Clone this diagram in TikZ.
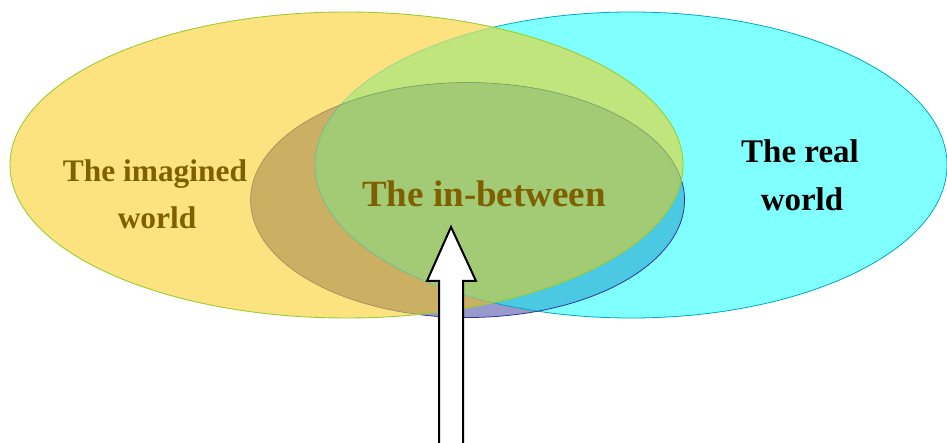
\documentclass[tikz,border=0pt]{standalone}
\usepackage{fontspec}
\setmainfont{Liberation Serif}
\definecolor{cY}{HTML}{FDE37F}
\definecolor{cC}{HTML}{80FFFF}
\definecolor{cM}{HTML}{9999CC}
\definecolor{cYC}{HTML}{C1E57D}
\definecolor{cYM}{HTML}{CBB063}
\definecolor{cCM}{HTML}{4BC9E3}
\definecolor{cYCM}{HTML}{A3CA74}
\definecolor{lY}{HTML}{9ACD32}
\definecolor{lC}{HTML}{00A8C0}
\definecolor{lM}{HTML}{3333A0}
\definecolor{olive}{HTML}{7F6000}
\tikzset{
  Ypath/.style={insert path={(346.5,165) ellipse [x radius=336.5pt, y radius=153pt]}},
  Cpath/.style={insert path={(631,165) ellipse [x radius=316pt, y radius=153pt]}},
  Mpath/.style={insert path={(467.5,200) ellipse [x radius=217pt, y radius=117.5pt]}},
  lbl/.style={inner sep=0pt, anchor=base},
  oliveA/.style={lbl, text=olive, font=\fontsize{31.4}{36}\selectfont\bfseries},
  oliveB/.style={lbl, text=olive, font=\fontsize{37}{42}\selectfont\bfseries},
  blackA/.style={lbl, text=black, font=\fontsize{33}{38}\selectfont\bfseries},
}
\begin{document}
\begin{tikzpicture}[x=1pt,y=-1pt]
\useasboundingbox (0,0) rectangle (947,443);
% base fills
\fill[cC, Cpath];
\fill[cY, Ypath];
\fill[cM, Mpath];
% pairwise intersections
\begin{scope}
  \clip[Ypath];
  \fill[cYC, Cpath];
  \fill[cYM, Mpath];
\end{scope}
\begin{scope}
  \clip[Cpath];
  \fill[cCM, Mpath];
\end{scope}
\begin{scope}
  \clip[Ypath];
  \clip[Cpath];
  \fill[cYCM, Mpath];
\end{scope}
% outlines outside yellow
\begin{scope}[even odd rule]
  \clip (-20,-20) rectangle (970,470) (346.5,165) ellipse [x radius=336.5pt, y radius=153pt];
  \draw[lC, line width=0.8pt, Cpath];
  \draw[lM, line width=0.8pt, Mpath];
\end{scope}
% outlines inside yellow (seen through)
\begin{scope}
  \clip[Ypath];
  \draw[black, opacity=0.18, line width=0.8pt, Mpath];
  \draw[lC, opacity=0.25, line width=0.8pt, Cpath];
\end{scope}
\draw[lY, line width=0.9pt, Ypath];
% labels
\node[oliveA] (img1) at (155,182) {The imagined};
\node[oliveA] (img2) at (157,229) {world};
\node[oliveB] (mid) at (484,207) {The in-between};
\node[blackA] (real1) at (800,163) {The real};
\node[blackA] (real2) at (802,211) {world};
% block arrow
\coordinate (tip) at (451,227);
\draw[line width=2pt, fill=white, line join=miter]
  (tip) -- (476,281) -- (463,281) -- (463,452) -- (439,452) -- (439,281) -- (427,281) -- cycle;
\end{tikzpicture}
\end{document}
